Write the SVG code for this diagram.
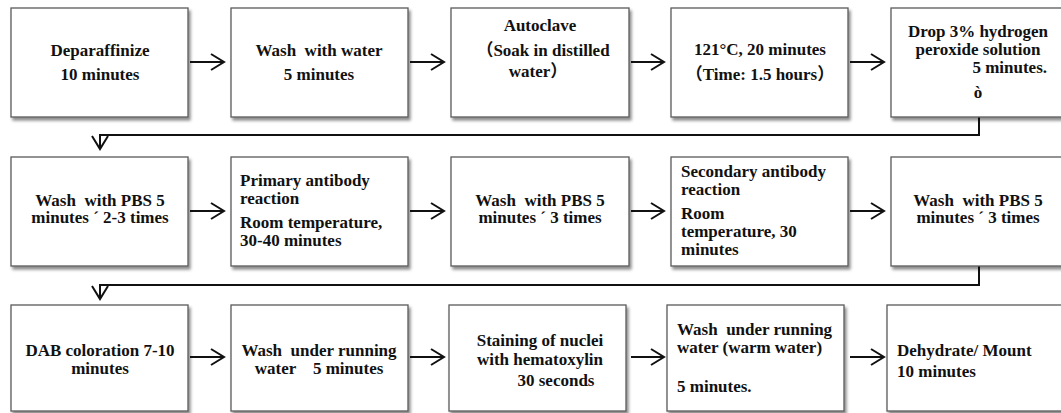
<svg xmlns="http://www.w3.org/2000/svg" width="1061" height="413" viewBox="0 0 1061 413">
<style>
.box{fill:#fff;stroke:#5a5a5a;stroke-width:1.3;filter:url(#sh)}
.t{font-family:"Liberation Serif","Times New Roman","Noto Sans CJK SC",serif;font-weight:bold;font-size:17px;fill:#111;white-space:pre}
.c{text-anchor:middle}
.ln{fill:none;stroke:#111;stroke-width:2}
</style>
<defs>
<filter id="sh" x="-5%" y="-5%" width="115%" height="120%">
<feDropShadow dx="2" dy="3" stdDeviation="1.6" flood-color="#000" flood-opacity="0.45"/>
</filter>
</defs>
<rect width="1061" height="413" fill="#fff"/>
<g id="connectors">
<path class="ln" d="M190,62 H224 M211,54 L224,62 L211,70"/>
<path class="ln" d="M410,62 H444 M431,54 L444,62 L431,70"/>
<path class="ln" d="M631,62 H664 M651,54 L664,62 L651,70"/>
<path class="ln" d="M850,62 H884 M871,54 L884,62 L871,70"/>
<path class="ln" d="M979,117 V135 H100 V149 M92,136 L100,149 L108,136"/>
<path class="ln" d="M190,211 H224 M211,203 L224,211 L211,219"/>
<path class="ln" d="M410,211 H444 M431,203 L444,211 L431,219"/>
<path class="ln" d="M631,211 H664 M651,203 L664,211 L651,219"/>
<path class="ln" d="M850,211 H884 M871,203 L884,211 L871,219"/>
<path class="ln" d="M979,266 V285 H100 V299 M92,286 L100,299 L108,286"/>
<path class="ln" d="M190,357 H224 M211,349 L224,357 L211,365"/>
<path class="ln" d="M410,357 H444 M431,349 L444,357 L431,365"/>
<path class="ln" d="M631,357 H664 M651,349 L664,357 L651,365"/>
<path class="ln" d="M850,357 H884 M871,349 L884,357 L871,365"/>
</g>
<g id="n1"><rect class="box" x="11" y="8" width="177" height="109"/>
<text class="t c" x="100" y="56">Deparaffinize</text><text class="t c" x="100" y="80">10 minutes</text></g>
<g id="n2"><rect class="box" x="231" y="8" width="177" height="109"/>
<text class="t c" x="319" y="56">Wash  with water</text><text class="t c" x="319" y="80">5 minutes</text></g>
<g id="n3"><rect class="box" x="451" y="8" width="178" height="109"/>
<text class="t c" x="540" y="31">Autoclave</text><text class="t c" x="543" y="56">（Soak in distilled</text><text class="t c" x="538" y="77">water）</text></g>
<g id="n4"><rect class="box" x="671" y="8" width="177" height="109"/>
<text class="t c" x="760" y="55">121°C, 20 minutes</text><text class="t c" x="760" y="80">（Time: 1.5 hours）</text></g>
<g id="n5"><rect class="box" x="891" y="8" width="180" height="109"/>
<text class="t c" x="978" y="37">Drop 3% hydrogen</text><text class="t c" x="978" y="55">peroxide solution</text><text class="t" x="1047" y="73" text-anchor="end">5 minutes.</text><text class="t c" x="978" y="98">ò</text></g>
<g id="n6"><rect class="box" x="11" y="157" width="177" height="109"/>
<text class="t c" x="100" y="206">Wash  with PBS 5</text><text class="t c" x="100" y="223">minutes ´ 2-3 times</text></g>
<g id="n7"><rect class="box" x="231" y="157" width="177" height="109"/>
<text class="t" x="240" y="186">Primary antibody</text><text class="t" x="240" y="204">reaction</text><text class="t" x="240" y="228">Room temperature,</text><text class="t" x="240" y="246">30-40 minutes</text></g>
<g id="n8"><rect class="box" x="451" y="157" width="178" height="109"/>
<text class="t c" x="540" y="206">Wash  with PBS 5</text><text class="t c" x="540" y="223">minutes ´ 3 times</text></g>
<g id="n9"><rect class="box" x="671" y="157" width="177" height="109"/>
<text class="t" x="681" y="177">Secondary antibody</text><text class="t" x="681" y="195">reaction</text><text class="t" x="681" y="219">Room</text><text class="t" x="681" y="237">temperature, 30</text><text class="t" x="681" y="255">minutes</text></g>
<g id="n10"><rect class="box" x="891" y="157" width="180" height="109"/>
<text class="t c" x="978" y="206">Wash  with PBS 5</text><text class="t c" x="978" y="223">minutes ´ 3 times</text></g>
<g id="n11"><rect class="box" x="11" y="305" width="177" height="106"/>
<text class="t c" x="100" y="356">DAB coloration 7-10</text><text class="t c" x="100" y="374">minutes</text></g>
<g id="n12"><rect class="box" x="231" y="305" width="177" height="106"/>
<text class="t c" x="319" y="356">Wash  under running</text><text class="t c" x="319" y="374">water    5 minutes</text></g>
<g id="n13"><rect class="box" x="449" y="305" width="177" height="106"/>
<text class="t c" x="540" y="346">Staining of nuclei</text><text class="t c" x="540" y="365">with hematoxylin</text><text class="t c" x="556" y="386">30 seconds</text></g>
<g id="n14"><rect class="box" x="667" y="305" width="177" height="106"/>
<text class="t" x="677" y="335">Wash  under running</text><text class="t" x="677" y="353">water (warm water)</text><text class="t" x="677" y="392">5 minutes.</text></g>
<g id="n15"><rect class="box" x="887" y="305" width="180" height="106"/>
<text class="t" x="897" y="356">Dehydrate/ Mount</text><text class="t" x="897" y="377">10 minutes</text></g>
</svg>
